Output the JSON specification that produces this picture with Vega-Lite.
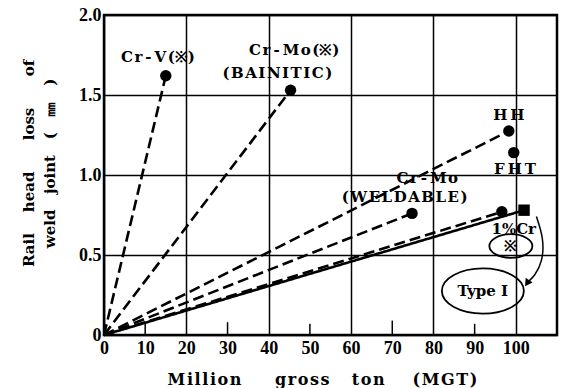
{
  "$schema": "https://vega.github.io/schema/vega-lite/v6.json",
  "width": 453,
  "height": 320,
  "autosize": {"type": "none"},
  "padding": {"left": 104, "top": 15, "right": 4, "bottom": 53},
  "background": "white",
  "config": {
    "view": {"stroke": "black", "strokeWidth": 2.5},
    "font": "DejaVu Serif",
    "text": {"font": "DejaVu Serif", "fontWeight": "bold", "fontSize": 15, "fill": "black"}
  },
  "datasets": {
    "lines": [
      {"series": "Cr-V", "style": "dashed", "x": 0, "y": 0},
      {"series": "Cr-V", "style": "dashed", "x": 15, "y": 1.62},
      {"series": "Cr-Mo B", "style": "dashed", "x": 0, "y": 0},
      {"series": "Cr-Mo B", "style": "dashed", "x": 45.3, "y": 1.53},
      {"series": "HH", "style": "dashed", "x": 0, "y": 0},
      {"series": "HH", "style": "dashed", "x": 98.3, "y": 1.275},
      {"series": "Cr-Mo W", "style": "dashed", "x": 0, "y": 0},
      {"series": "Cr-Mo W", "style": "dashed", "x": 74.8, "y": 0.76},
      {"series": "1%Cr", "style": "dashed", "x": 0, "y": 0},
      {"series": "1%Cr", "style": "dashed", "x": 96.6, "y": 0.77},
      {"series": "Type I", "style": "solid", "x": 0, "y": 0},
      {"series": "Type I", "style": "solid", "x": 102, "y": 0.78}
    ],
    "points": [
      {"series": "Cr-V", "shape": "circle", "x": 15, "y": 1.62},
      {"series": "Cr-Mo B", "shape": "circle", "x": 45.3, "y": 1.53},
      {"series": "HH", "shape": "circle", "x": 98.3, "y": 1.275},
      {"series": "FHT", "shape": "circle", "x": 99.5, "y": 1.14},
      {"series": "Cr-Mo W", "shape": "circle", "x": 74.8, "y": 0.76},
      {"series": "1%Cr", "shape": "circle", "x": 96.6, "y": 0.77},
      {"series": "Type I", "shape": "square", "x": 102, "y": 0.78}
    ],
    "labels": [
      {"text": "C\u200ar\u2009-\u2009V\u200a(※)", "x": 13.1, "y": 1.74},
      {"text": "C\u200ar\u2009-\u2009M\u200ao\u200a(※)", "x": 46.2, "y": 1.78},
      {"text": "(\u200aB\u200aA\u200aI\u200aN\u200aI\u200aT\u200aI\u200aC\u200a)", "x": 42.1, "y": 1.64},
      {"text": "H\u2009H", "x": 98.3, "y": 1.375},
      {"text": "F\u2009H\u2009T", "x": 99.8, "y": 1.04},
      {"text": "C\u200ar\u2009-\u2009M\u200ao", "x": 78.5, "y": 0.98},
      {"text": "(\u200aW\u200aE\u200aL\u200aD\u200aA\u200aB\u200aL\u200aE\u200a)", "x": 73, "y": 0.86},
      {"text": "1%Cr", "x": 99.5, "y": 0.665},
      {"text": "※", "x": 98.8, "y": 0.556},
      {"text": "Type Ⅰ", "x": 92, "y": 0.275}
    ],
    "ovals": [
      {"x": 98.8, "y": 0.556, "size": 1850},
      {"x": 92, "y": 0.275, "size": 6724}
    ],
    "arrow": [
      {"o": 1, "x": 105, "y": 0.74},
      {"o": 2, "x": 106.8, "y": 0.6},
      {"o": 3, "x": 106.5, "y": 0.46},
      {"o": 4, "x": 104.6, "y": 0.37},
      {"o": 5, "x": 102.9, "y": 0.33}
    ],
    "arrowhead": [{"x": 102.9, "y": 0.33}],
    "minor": [
      {"x": 10, "y": 0, "y2": 0.07},
      {"x": 30, "y": 0, "y2": 0.08},
      {"x": 50, "y": 0, "y2": 0.07},
      {"x": 70, "y": 0, "y2": 0.09},
      {"x": 90, "y": 0, "y2": 0.07}
    ]
  },
  "encoding": {
    "x": {
      "field": "x", "type": "quantitative",
      "scale": {"domain": [0, 110], "nice": false, "zero": false},
      "axis": {
        "values": [0, 10, 20, 30, 40, 50, 60, 70, 80, 90, 100],
        "domain": false, "ticks": false,
        "grid": true, "gridColor": "black", "gridWidth": 1.5,
        "gridOpacity": {"condition": {"test": "datum.value % 20 === 0", "value": 1}, "value": 0},
        "labelFont": "Liberation Serif", "labelFontWeight": "bold", "labelFontSize": 18, "labelColor": "black",
        "labelPadding": 4, "labelFlush": false,
        "title": "M\u200ai\u200al\u200al\u200ai\u200ao\u200an\u00a0\u00a0\u00a0\u00a0\u00a0\u00a0g\u200ar\u200ao\u200as\u200as\u00a0\u00a0\u00a0\u00a0t\u200ao\u200an\u00a0\u00a0\u00a0\u00a0\u00a0(\u200aM\u200aG\u200aT\u200a)",
        "titleFont": "DejaVu Serif", "titleFontWeight": "bold", "titleFontSize": 16, "titleColor": "black",
        "titleX": 218, "titleY": 49, "titleBaseline": "alphabetic", "titleAlign": "center"
      }
    },
    "y": {
      "field": "y", "type": "quantitative",
      "scale": {"domain": [0, 2], "nice": false},
      "axis": {
        "values": [0, 0.5, 1, 1.5, 2],
        "labelExpr": "datum.value === 0 ? '0' : format(datum.value, '.1f')",
        "domain": false, "ticks": false,
        "grid": true, "gridColor": "black", "gridWidth": 1.5,
        "labelFont": "Liberation Serif", "labelFontWeight": "bold", "labelFontSize": 18, "labelColor": "black",
        "labelPadding": 3,
        "title": ["Rail\u00a0\u00a0\u00a0\u00a0head\u00a0\u00a0\u00a0\u00a0\u00a0\u00a0loss\u00a0\u00a0\u00a0\u00a0\u00a0\u00a0of", "weld\u00a0\u00a0\u00a0joint\u00a0\u00a0\u00a0(\u00a0\u00a0\u00a0㎜\u00a0\u00a0\u00a0)"],
        "titleFont": "DejaVu Serif", "titleFontWeight": "bold", "titleFontSize": 15, "titleColor": "black",
        "titleLineHeight": 21,
        "titleX": -83, "titleY": 148, "titleAngle": -90, "titleAlign": "center", "titleBaseline": "top"
      }
    }
  },
  "layer": [
    {
      "data": {"name": "minor"},
      "mark": {"type": "rule", "color": "black", "strokeWidth": 1.5},
      "encoding": {"y2": {"field": "y2"}}
    },
    {
      "data": {"name": "lines"},
      "mark": {"type": "line", "color": "black", "strokeWidth": 2.6},
      "encoding": {
        "detail": {"field": "series"},
        "strokeDash": {
          "field": "style", "type": "nominal",
          "scale": {"domain": ["dashed", "solid"], "range": [[11, 5], [1, 0]]},
          "legend": null
        }
      }
    },
    {
      "data": {"name": "points"},
      "mark": {"type": "point", "filled": true, "color": "black", "opacity": 1},
      "encoding": {
        "shape": {"field": "shape", "type": "nominal", "scale": {"domain": ["circle", "square"], "range": ["circle", "square"]}, "legend": null},
        "size": {"value": 130}
      }
    },
    {
      "data": {"name": "arrow"},
      "mark": {"type": "line", "color": "black", "strokeWidth": 1.5, "interpolate": "basis"},
      "encoding": {"order": {"field": "o"}}
    },
    {
      "data": {"name": "arrowhead"},
      "mark": {"type": "point", "shape": "triangle", "filled": true, "color": "black", "opacity": 1, "size": 70, "angle": 214}
    },
    {
      "data": {"name": "ovals"},
      "mark": {"type": "point", "shape": "M -1 0 A 1 0.55 0 1 1 1 0 A 1 0.55 0 1 1 -1 0 Z", "filled": false, "stroke": "black", "strokeWidth": 1.8, "opacity": 1},
      "encoding": {"size": {"field": "size", "type": "quantitative", "scale": null}}
    },
    {
      "data": {"name": "labels"},
      "mark": {"type": "text", "align": "center", "baseline": "middle"},
      "encoding": {"text": {"field": "text"}}
    }
  ]
}
